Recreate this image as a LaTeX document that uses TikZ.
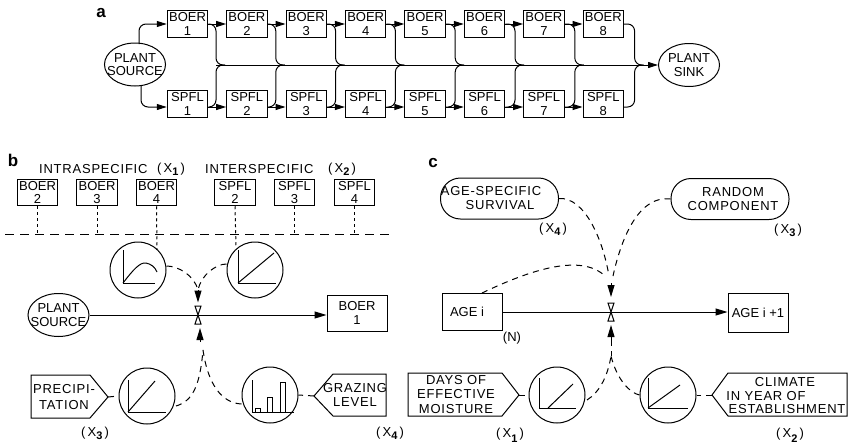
\documentclass[tikz,border=0pt]{standalone}
\usepackage{fontspec}
\setmainfont{Liberation Sans}
\newfontfamily\widefont[LetterSpace=6]{Liberation Sans}
\usetikzlibrary{arrows.meta,calc,shapes.geometric}
\newcommand{\txt}{\fontsize{13}{13.5}\selectfont}
\newcommand{\wtxt}{\fontsize{13}{14.5}\selectfont\widefont}
\newcommand{\xlab}[3][-3pt]{(\,X\raisebox{#1}{\fontsize{11}{11}\selectfont\bfseries #2}\,)#3}
\tikzset{
  ln/.style={line width=1pt,black},
  tip/.style={-{Triangle[length=12pt,width=7pt]}},
  smalltip/.style={-{Triangle[length=10pt,width=6pt]}},
  sbox/.style={draw,ln,minimum width=40.5pt,minimum height=26.5pt,inner sep=0pt,align=center,font=\txt},
  bigbox/.style={draw,ln,minimum width=60pt,minimum height=37pt,inner sep=0pt,align=center,font=\txt},
  oval/.style={draw,ln,ellipse,minimum width=61pt,minimum height=43pt,inner sep=0pt},
  circ/.style={draw,ln,circle,minimum size=56pt,inner sep=0pt},
  pill/.style={draw,ln,rounded corners=20pt,minimum width=118pt,minimum height=41pt,inner sep=0pt},
  lab/.style={inner sep=0pt,align=center,font=\txt},
  wlab/.style={inner sep=0pt,align=center,font=\wtxt},
  panel/.style={inner sep=0pt,font=\fontsize{17}{17}\selectfont\bfseries},
  dsh/.style={ln,dash pattern=on 6pt off 5pt},
  dot/.style={ln,dash pattern=on 3pt off 3pt},
  valve/.style={ln,fill=white},
  plot/.style={ln}
}
\begin{document}
\begin{tikzpicture}[x=1pt,y=-1pt]
\useasboundingbox (0,0) rectangle (850,447);
% panel letters
\node[panel] (pa) at (101,13) {a};
\node[panel] (pb) at (13,160) {b};
\node[panel] (pc) at (433,163) {c};
% ---------- panel a
\node[oval] (src) at (135,64.5) {};
\node[lab] (srct) at (135,64.5) {PLANT\\SOURCE};
\node[oval] (snk) at (689,65) {};
\node[lab] (snkt) at (689,65) {PLANT\\SINK};
\foreach \k in {1,...,8}{
  \pgfmathsetmacro{\bx}{187.5+59.4*(\k-1)}
  \pgfmathsetmacro{\jx}{216+59.8*(\k-1)}
  \node[sbox] (B\k) at (\bx,24) {BOER\\\k};
  \node[sbox] (S\k) at (\bx,104) {SPFL\\\k};
  \coordinate (J\k) at (\jx,65);
}
\draw[ln,rounded corners=7pt,smalltip] (139,44) -- (139,24) -- (B1.west);
\draw[ln,rounded corners=7pt,smalltip] (141,85) -- (141,107) -- (S1.west|-141,107);
\foreach \k [evaluate=\k as \n using int(\k+1)] in {1,...,7}{
  \draw[ln,smalltip] (B\k.east) -- (B\n.west);
  \draw[ln,smalltip] (S\k.east|-0,107) -- (S\n.west|-0,107);
}
\foreach \k in {1,...,8}{
  \draw[ln,rounded corners=7pt] (B\k.east) -- (J\k|-B\k.east) -- (J\k) -- ++(9,0);
  \draw[ln,rounded corners=7pt] (S\k.east|-0,107) -- (J\k|-0,107) -- (J\k) -- ++(9,0);
}
\draw[ln,smalltip] (J1) -- (snk.west);
% ---------- panel b
\node[wlab,anchor=west] (intra) at (39,169) {INTRASPECIFIC};
\node[wlab,anchor=west] (intrax) at (157,169) {\xlab{1}{}};
\node[wlab,anchor=west] (inter) at (205,169) {INTERSPECIFIC};
\node[wlab,anchor=west] (interx) at (328,169) {\xlab{2}{}};
\node[sbox] (b2) at (37.5,192.5) {BOER\\2};
\node[sbox] (b3) at (97,192.5) {BOER\\3};
\node[sbox] (b4) at (156.5,192.5) {BOER\\4};
\node[sbox] (s2) at (235,192.5) {SPFL\\2};
\node[sbox] (s3) at (294.5,192.5) {SPFL\\3};
\node[sbox] (s4) at (354.5,192.5) {SPFL\\4};
\coordinate (dl) at (5,234);
\coordinate (dr) at (390,234);
\draw[dsh,dash pattern=on 9pt off 6pt] (dl) -- (dr);
\node[circ] (c1) at (138,270) {};
\node[circ] (c2) at (255,270) {};
\foreach \n in {b2,b3,s3,s4}{\draw[dot] (\n.south) -- (\n.south|-dl);}
\draw[dot] (b4.south) ++(0,0) -- (157,250);
\draw[dot] (s2.south) ++(0,0) -- (236,247);
% plots in b
\draw[plot] (123,250) -- (123,283) -- (155,283);
\draw[plot] (123,283) .. controls (133,270) and (140,262) .. (146,263) .. controls (151,264) and (155,267) .. (157,272);
\draw[plot] (238,250) -- (238,283) -- (276,283);
\draw[plot] (238,283) -- (274,253);
\coordinate (vb) at (198,315);
\coordinate (vbt) at (198,290);
\coordinate (vbb) at (200,342);
\draw[dsh] (c1.east|-0,266) .. controls (178,266) and (194,275) .. (vbt);
\draw[dsh] (c2.west|-0,264) .. controls (216,264) and (201,275) .. (vbt);
\draw[ln,tip] (vbt) -- (198,302.5);
\node[oval] (src2) at (58.5,315) {};
\node[lab] (src2t) at (58.5,315) {PLANT\\SOURCE};
\node[bigbox,minimum height=36pt] (b1) at (357,313) {BOER\\1};
\draw[ln,tip] (src2.east) -- (b1.west|-src2.east);
\draw[valve] (vb)++(-3,-9) -- ++(6,0) -- ++(-6,18) -- ++(6,0) -- cycle;
\draw[ln,tip] (vbb) -- (200,328);
\coordinate (pt) at (108,397);
\draw[ln] (31,375) -- (90,375) -- (pt) -- (90,418) -- (31,418) -- cycle;
\node[wlab] (prec) at (64,397) {PRECIPI-\\[1pt]TATION};
\node[circ] (c3) at (147,396) {};
\draw[dsh] (pt) -- (c3.west);
\draw[plot] (128,380) -- (128,412) -- (166,412);
\draw[plot] (128,412) -- (155,381);
\draw[dsh] (176,406) .. controls (193,401) and (200,385) .. (203,350);
\coordinate (gt) at (314,396);
\draw[ln] (386,374) -- (333,374) -- (gt) -- (333,416) -- (386,416) -- cycle;
\node[wlab] (graz) at (355,395) {GRAZING\\LEVEL};
\node[circ] (c4) at (270,395) {};
\draw[dsh] (gt) -- (c4.east);
\draw[plot] (252,380) -- (252,412) -- (294,412);
\draw[plot] (255,412) -- (255,408) -- (260,408) -- (260,412);
\draw[plot] (267,412) -- (267,397) -- (272,397) -- (272,412);
\draw[plot] (280,412) -- (280,382) -- (285,382) -- (285,412);
\draw[dsh] (c4.west|-0,404) .. controls (222,403) and (208,385) .. (203,350);
\node[lab] (x3) at (95,433) {\xlab{3}{}};
\node[lab] (x4) at (390,433) {\xlab{4}{}};
% ---------- panel c
\node[pill] (age) at (499.5,198.5) {};
\node[wlab] (aget) at (491,198) {AGE-SPECIFIC\\\hspace*{18pt}SURVIVAL};
\node[pill] (rnd) at (730,199) {};
\node[wlab] (rndt) at (733,199) {RANDOM\\COMPONENT};
\node[lab] (cx4) at (553,229) {\xlab{4}{}};
\node[lab] (cx3) at (788,230) {\xlab{3}{}};
\node[bigbox] (ai) at (472,311.5) {AGE i\hspace{10pt}};
\node[bigbox,minimum height=39pt] (ai1) at (758,312.5) {AGE i +1};
\node[lab] (cn) at (512,338) {(N)};
\coordinate (vc) at (611,312);
\coordinate (vct) at (611,283);
\draw[dsh] (age.east) .. controls (585,197) and (603,240) .. (609,276);
\draw[dsh] (rnd.west) .. controls (640,195) and (622,235) .. (613,276);
\draw[dsh] (482,293) .. controls (520,275) and (580,250) .. (606,277);
\draw[ln,tip] (vct) -- (611,297);
\draw[ln,tip] (ai.east|-vc) -- (ai1.west|-vc);
\draw[valve] (vc)++(-3,-9) -- ++(6,0) -- ++(-6,18) -- ++(6,0) -- cycle;
\draw[ln,tip] (611,340) -- (611,325);
\draw[dsh] (611,340) -- (611,356);
\coordinate (dt) at (519,395);
\draw[ln] (408,373) -- (502,373) -- (dt) -- (502,416) -- (408,416) -- cycle;
\node[wlab] (days) at (456,394.5) {DAYS OF\\EFFECTIVE\\MOISTURE};
\node[circ] (c5) at (557,395) {};
\draw[dsh] (dt) -- (c5.west);
\draw[plot] (539,378) -- (539,408) -- (576,408);
\draw[plot] (548,408) -- (573,384);
\draw[dsh] (587,400) .. controls (600,392) and (608,375) .. (611,356);
\coordinate (ct) at (712,395);
\draw[ln] (847,373) -- (728,373) -- (ct) -- (728,416) -- (847,416) -- cycle;
\node[wlab] (clim1) at (785,382) {CLIMATE};
\node[wlab] (clim2) at (766,396) {IN YEAR OF};
\node[wlab] (clim3) at (787,409.5) {ESTABLISHMENT};
\node[circ] (c6) at (668,395) {};
\draw[dsh] (ct) -- (c6.east);
\draw[plot] (648,378) -- (648,408) -- (688,408);
\draw[plot] (648,408) -- (680,385);
\draw[dsh] (c6.west) .. controls (630,393) and (617,380) .. (611,356);
\node[lab] (cx1) at (510,435) {\xlab[-5pt]{1}{}};
\node[lab] (cx2) at (790,435) {\xlab[-5pt]{2}{}};
\end{tikzpicture}
\end{document}
